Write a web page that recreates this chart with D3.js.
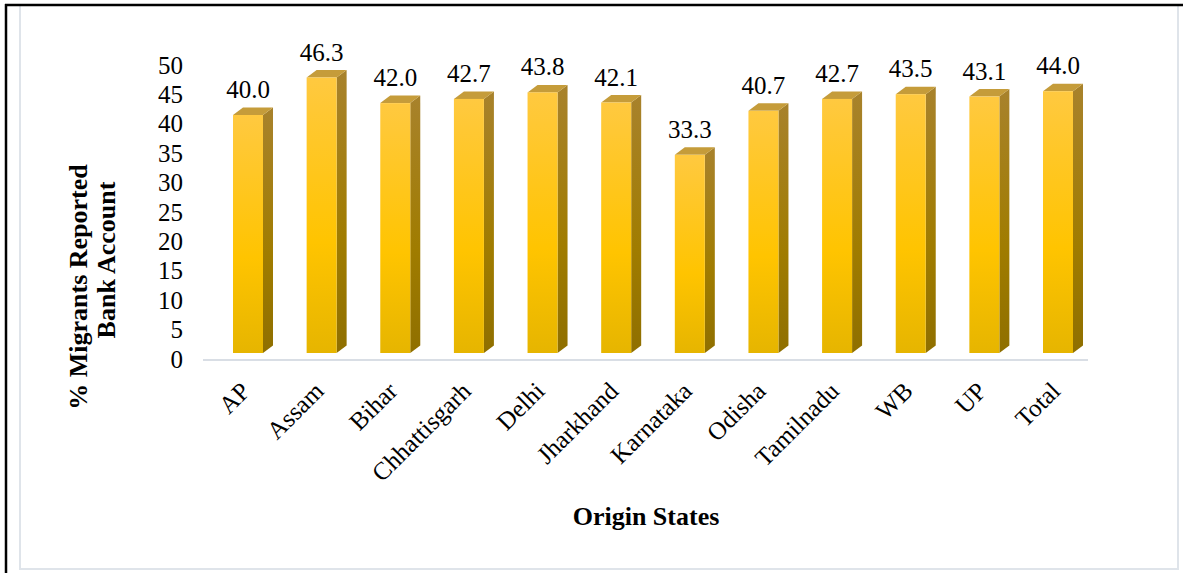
<!DOCTYPE html>
<html>
<head>
<meta charset="utf-8">
<script src="https://cdn.jsdelivr.net/npm/d3@7"></script>
<style>
  html, body { margin: 0; padding: 0; background: #fff; }
  svg { display: block; }
</style>
</head>
<body>
<script>
// Share of migrants reporting a bank account, by state of origin
const categories = ["AP", "Assam", "Bihar", "Chhattisgarh", "Delhi", "Jharkhand",
                    "Karnataka", "Odisha", "Tamilnadu", "WB", "UP", "Total"];
const values = [40.0, 46.3, 42.0, 42.7, 43.8, 42.1, 33.3, 40.7, 42.7, 43.5, 43.1, 44.0];
const yTicks = [0, 5, 10, 15, 20, 25, 30, 35, 40, 45, 50];
const yTitleLines = ["% Migrants Reported", "Bank Account"];
const xTitle = "Origin States";

const FONT = '"Liberation Serif", "Times New Roman", Times, serif';
const W = 1183, H = 573;
const svg = d3.select("body").append("svg").attr("width", W).attr("height", H)
  .attr("font-family", FONT);

// gradients for the three visible faces of each 3-D column
const defs = svg.append("defs");
const gFront = defs.append("linearGradient").attr("id", "front")
  .attr("x1", 0).attr("y1", 0).attr("x2", 0).attr("y2", 1);
gFront.append("stop").attr("offset", "0%").attr("stop-color", "#ffc940");
gFront.append("stop").attr("offset", "60%").attr("stop-color", "#ffc400");
gFront.append("stop").attr("offset", "100%").attr("stop-color", "#e6b500");
const gSide = defs.append("linearGradient").attr("id", "side")
  .attr("x1", 0).attr("y1", 0).attr("x2", 0).attr("y2", 1);
gSide.append("stop").attr("offset", "0%").attr("stop-color", "#a8822c");
gSide.append("stop").attr("offset", "60%").attr("stop-color", "#a07c00");
gSide.append("stop").attr("offset", "100%").attr("stop-color", "#8f6f00");

// outer frame
svg.append("rect").attr("x", 20).attr("y", 5).attr("width", 1158).attr("height", 564)
  .attr("fill", "none").attr("stroke", "#dfe4ea").attr("stroke-width", 2);
svg.append("line").attr("x1", 5).attr("x2", 1183).attr("y1", 5).attr("y2", 5)
  .attr("stroke", "#000").attr("stroke-width", 2.5);
svg.append("line").attr("x1", 6).attr("x2", 6).attr("y1", 4).attr("y2", H)
  .attr("stroke", "#000").attr("stroke-width", 2.5);

// scales
const x = d3.scalePoint().domain(categories).range([248, 1058]);
const y = d3.scaleLinear().domain([0, 50]).range([353, 55.5]);      // column front faces
const yWall = d3.scaleLinear().domain([0, 50]).range([359, 65]);    // labels on the back wall
const barW = 30, depthX = 10, depthY = 7.5;

// floor line
svg.append("line").attr("x1", 203).attr("x2", 1088).attr("y1", 360).attr("y2", 360)
  .attr("stroke", "#d9dee5").attr("stroke-width", 2);

// y axis (labels only)
const yAxis = d3.axisLeft(yWall).tickValues(yTicks).tickSize(0).tickPadding(0);
const gy = svg.append("g").attr("transform", "translate(183,0)").call(yAxis)
  .attr("font-family", FONT).attr("font-size", 25);
gy.select(".domain").remove();
gy.selectAll("text").attr("fill", "#000").attr("font-family", FONT).attr("font-size", 25);

// columns
const bars = svg.append("g").selectAll("g").data(categories).join("g");
bars.each(function (c, i) {
  const g = d3.select(this);
  const x0 = x(c) - barW / 2, x1 = x0 + barW;
  const yt = y(values[i]), yb = y(0);
  // side face
  g.append("path")
    .attr("d", `M${x1},${yt} L${x1 + depthX},${yt - depthY} L${x1 + depthX},${yb - depthY} L${x1},${yb} Z`)
    .attr("fill", "url(#side)");
  // top face
  g.append("path")
    .attr("d", `M${x0},${yt} L${x0 + depthX},${yt - depthY} L${x1 + depthX},${yt - depthY} L${x1},${yt} Z`)
    .attr("fill", "#c59c3a");
  // front face
  g.append("rect").attr("x", x0).attr("y", yt).attr("width", barW).attr("height", yb - yt)
    .attr("fill", "url(#front)");
  // value label
  g.append("text").attr("x", x(c)).attr("y", yt - 17)
    .attr("text-anchor", "middle").attr("font-size", 25).attr("font-family", FONT)
    .attr("fill", "#000")
    .text(values[i].toFixed(1));
});

// category labels
svg.append("g").selectAll("text").data(categories).join("text")
  .attr("transform", c => `translate(${x(c) - 9},${380}) rotate(-45)`)
  .attr("text-anchor", "end").attr("dy", "0.71em")
  .attr("font-size", 25).attr("font-family", FONT).attr("fill", "#000")
  .text(c => c);

// axis titles
const yTitlePos = [{ bx: 87, cy: 287 }, { bx: 115, cy: 260 }];
svg.append("g").selectAll("text").data(yTitleLines).join("text")
  .attr("transform", (t, i) => `translate(${yTitlePos[i].bx},${yTitlePos[i].cy}) rotate(-90)`)
  .attr("text-anchor", "middle").attr("font-size", 26).attr("font-weight", "bold")
  .attr("font-family", FONT).attr("fill", "#000")
  .text(t => t);

svg.append("text").attr("x", 646).attr("y", 525)
  .attr("text-anchor", "middle").attr("font-size", 26).attr("font-weight", "bold")
  .attr("font-family", FONT).attr("fill", "#000")
  .text(xTitle);
</script>
</body>
</html>
